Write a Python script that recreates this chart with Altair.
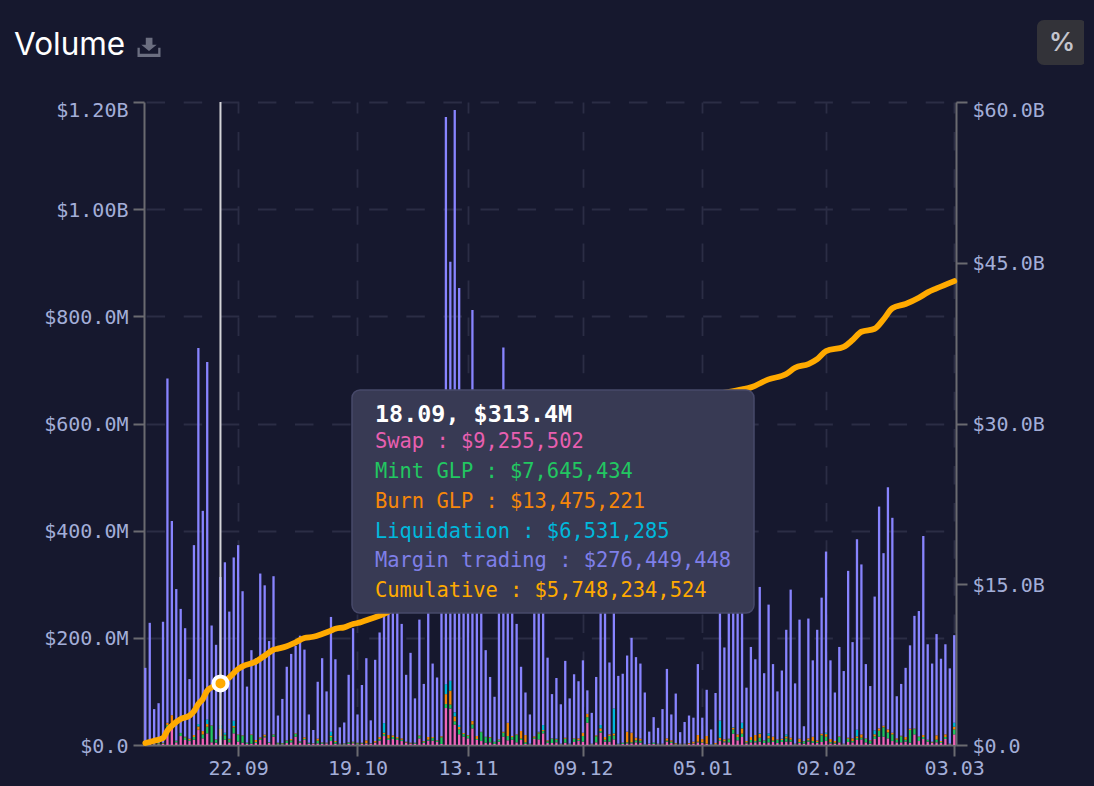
import altair as alt
import pandas as pd
from altair.utils.html import HTML_TEMPLATE

BG = "#16182e"
MONO = "DejaVu Sans Mono"

swap = [
    .6,1.9,1.2,1.2,1.9,24.8,34,5,16.7,9.3,
    7.4,9.9,27.9,12.4,21.7,5,4.3,9.26,9.9,5,
    21.7,6.2,4.3,1.9,2.5,3.7,9.3,14.3,3.7,15.5,
    1.2,1.2,3.7,5,15.5,4.3,9.3,2.5,1.9,3.1,
    2.5,3.1,7.4,2.5,1.2,1.2,1.9,3.1,1.2,1.9,
    3.1,1.9,4.3,8,16.7,9.3,11.2,9.3,7.4,4.3,
    2.5,2.5,12.4,3.7,8,8,5.6,1.9,69,68,
    38,20,15.5,12.4,31,9.3,7.4,4.3,5,1.9,
    6.2,15.5,8.7,9.9,5,9.3,1.9,1.2,11.2,10.5,
    21.7,3.7,3.7,5,1.2,4.3,1.2,5.6,7.4,6.2,
    41.5,1.2,5,23,6.2,6.2,10.5,1.2,1.9,3.1,
    3.1,5,4.3,.6,1.9,1.9,1.2,1.2,6.2,3.7,
    1.2,1.2,1.2,1.9,2.5,5,3.7,1.9,.6,1.2,
    7.4,5,5,21,8.7,14.9,3.1,5,5,6.2,
    3.7,5,5.6,3.7,5.6,6.2,6.2,1.2,3.7,2.5,
    6.2,4.3,3.7,5.6,7.4,3.1,2.5,5,1.2,5.6,
    5,9.3,10.5,5,2.5,11.2,15.5,15.5,12.4,7.4,
    5,5,6.2,4.3,19.8,7.4,11.2,6.2,3.7,5,
    3.7,11.2,1.2,19.8,
]
mint = [
    1.2,1.9,.6,1.9,1.2,12.4,6.2,2.5,5.6,5,
    1.9,5,.5,7.4,12.4,31,5.6,7.65,8,5,
    11.2,12.4,12.4,1.9,16.1,1.9,2.5,1.9,1.2,3.7,
    1.9,1.9,4.3,3.7,5,1.9,1.9,1.2,.6,5,
    1.9,.6,7.4,3.1,.6,1.2,2.5,1.9,1.9,1.2,
    .6,.6,.6,3.1,3.7,3.1,3.7,3.1,2.5,.6,
    .6,1.2,4.3,2.5,1.9,5,1.9,12.4,7.4,7.4,
    6.2,9.3,5,5,7.4,1.9,16.7,10.5,8.7,3.7,
    3.1,7.4,8,5,13.6,2.5,3.1,.6,2.5,11.2,
    4.3,3.1,8,5,.6,7.4,.6,5.6,1.9,10.5,
    10.5,.6,11.2,3.1,3.7,10.5,7.4,1.2,1.9,1.9,
    1.9,3.7,3.7,.6,.6,2.5,.6,.6,1.9,2.5,
    1.2,.6,.6,.6,.6,1.2,1.2,.6,.6,.6,
    1.9,1.9,5.6,8,6.2,6.2,1.9,4.3,2.5,7.4,
    4.3,7.4,2.5,5.6,3.7,6.2,3.7,.6,1.9,4.3,
    2.5,3.1,1.9,12.4,8,2.5,1.9,9.9,.6,6.2,
    2.5,3.7,3.1,6.2,5,5,11.2,17.4,11.2,12.4,
    5,11.2,3.7,23.6,9.9,7.4,3.7,3.1,1.2,5,
    1.9,3.7,.6,9.3,
]
burn = [
    .6,.6,.6,.6,1.2,4.3,15.5,.6,.3,1.2,
    2.5,3.7,6.2,6.2,5,.6,.6,13.48,1.2,1.2,
    2.5,1.2,1.2,.6,1.2,3.7,2.5,3.1,.3,.6,
    1.2,.6,.6,2.5,1.2,.6,3.1,.6,.6,3.7,
    .6,.6,2.5,1.9,.6,.6,.6,1.2,1.2,1.2,
    5,.6,2.5,3.7,2.5,6.2,3.1,2.5,2.5,1.2,
    1.2,.6,1.2,1.2,5,1.9,1.2,1.9,18.6,26,
    9.3,4.3,1.9,1.2,6.2,5.6,.6,.6,1.2,.6,
    1.2,1.9,24.8,1.9,1.2,14.3,13.6,.6,2.5,1.9,
    1.9,1.9,.6,1.2,.6,1.9,.6,1.2,3.1,6.2,
    6.2,.6,1.9,5,5,3.1,3.7,0,.6,19.8,
    18,5,3.7,0,0,0,.6,.6,4.3,2.5,
    1.2,.6,.6,1.2,3.1,12.4,6.2,14.3,0,1.9,
    4.3,3.7,1.2,3.1,5,9.9,2.5,5.6,11.2,7.4,
    .6,5,7.4,1.2,1.9,3.7,3.7,.6,6.2,.6,
    3.7,8,3.1,3.1,5,5.6,3.1,1.2,.6,1.9,
    5,3.1,6.2,1.2,1.2,3.7,4.3,3.1,5.6,3.1,
    2.5,1.2,5,2.5,1.2,1.2,3.7,.6,1.2,8,
    1.9,5,.6,5,
]
liquidation = [
    0,0,0,0,0,0,0,0,0,0,
    0,0,4.3,0,8.7,0,0,6.53,3.7,.6,
    9.9,0,.6,0,0,0,0,0,0,0,
    0,0,0,0,0,0,0,0,0,0,
    0,0,7.4,0,0,0,0,0,0,0,
    0,0,0,0,18,0,0,0,0,0,
    0,0,0,0,0,0,0,0,18.6,18.6,
    7.4,3.7,0,0,0,0,0,0,0,0,
    0,0,0,0,0,0,0,0,0,1.2,
    9.3,0,0,1.2,0,0,0,0,0,0,
    0,0,0,6.2,0,0,46.5,0,0,0,
    0,0,0,0,0,0,0,0,0,0,
    0,0,0,0,0,0,0,0,0,0,
    32,0,0,1.2,0,10.5,0,0,0,1.2,
    0,4.3,0,0,.6,3.7,0,0,0,0,
    0,0,0,0,2.5,0,0,0,0,0,
    0,12.4,0,0,0,7.4,0,0,0,0,
    0,0,0,0,0,0,0,0,0,0,
    0,0,0,7.4,
]
# Height of each whole daily bar, $M
daily_total = [
    144,228,67,78,230,684,418,291,254,218,
    123,373,741,437,715,223,187,313.4,341,249,
    350,373,287,109,177,162,320,298,194,315,
    55,86,146,170,185,204,178,57,28,118,
    162,100,239,160,33,42,131,218,57,112,
    162,46,159,210,300,330,290,310,226,131,
    172,87,234,114,420,152,126,560,1172,902,
    1185,853,620,560,812,500,480,177,127,90,
    420,742,380,350,226,146,98,57,300,360,
    320,163,95,125,76,157,87,132,119,158,
    102,60,127,300,290,154,340,129,133,167,
    200,164,152,98,25,52,32,67,142,57,
    96,24,43,55,51,151,51,103,29,97,
    310,182,280,300,270,310,107,183,160,295,
    134,262,151,100,139,215,290,115,234,35,
    236,158,215,275,361,158,98,183,138,325,
    192,384,337,151,110,277,445,358,481,424,
    91,114,144,186,241,250,390,188,152,207,
    161,188,143,205,
]

# Cumulative line, read at these days since 1 Sep ($B)
cum_day = [0,2,4,5,6,8,10,11,12,13,14,15,17,19,21,22,25,27,29,30,32,34,36,38,40,42,43,45,47,48,51,54,
           60,68,72,80,90,100,110,120,130,135,137,141,145,147,150,152,154,158,160,162,165,167,169,172,175,177,179,183]
cum_value = [.19,.40,.65,1.34,1.8,2.43,2.74,3.14,3.83,4.29,5.07,5.38,5.75,6.31,7.09,7.34,7.78,8.33,8.89,8.99,
             9.21,9.58,9.98,10.1,10.36,10.67,10.85,10.98,11.29,11.38,11.79,12.23,
             13.8,16,20.5,24,27,29,31,32,32.8,33.19,33.37,34.12,34.61,35.2,35.55,36.01,36.76,37.16,37.79,38.56,
             38.84,39.72,40.75,41.15,41.73,42.24,42.61,43.29]

series_names = ["Swap", "Mint GLP", "Burn GLP", "Liquidation", "Margin trading"]
series_colors = ["#ee64b8", "#22c761", "#f6870a", "#00b8dc", "#8884ff"]
tick_dates = [(2021,9,22),(2021,10,19),(2021,11,13),(2021,12,9),(2022,1,5),(2022,2,2),(2022,3,3)]
left_ticks = [0, 200, 400, 600, 800, 1000, 1200]
right_ticks = [0, 15, 30, 45, 60]
tooltip_lines = [
    ("Swap : $9,255,502", "#e85fb0"),
    ("Mint GLP : $7,645,434", "#22c761"),
    ("Burn GLP : $13,475,221", "#f6870a"),
    ("Liquidation : $6,531,285", "#00b8dc"),
    ("Margin trading : $276,449,448", "#7f7fe8"),
    ("Cumulative : $5,748,234,524", "#ffaa00"),
]

dates = pd.date_range("2021-09-01", periods=len(daily_total), freq="D")
iso = dates.strftime("%Y-%m-%dT00:00:00")
rows = []
for d, s, m, b, l, t in zip(iso, swap, mint, burn, liquidation, daily_total):
    vals = [s, m, b, l, t - s - m - b - l]
    for rank, (name, v) in enumerate(zip(series_names, vals)):
        rows.append({"date": d, "series": name, "value": v, "rank": rank})
bars_df = pd.DataFrame(rows)
line_df = pd.DataFrame({"date": [iso[i] for i in cum_day], "cum": cum_value})
cursor_df = pd.DataFrame({"date": [iso[17]], "cum": [cum_value[12]]})
one = pd.DataFrame({"k": [0]})

x_scale = alt.Scale(domain=[alt.DateTime(year=2021, month=8, date=31, hours=16, minutes=48),
                            alt.DateTime(year=2022, month=3, date=3, hours=9, minutes=36)], padding=0)
right_scale = alt.Scale(domain=[0, 60], nice=False)

x_axis = alt.Axis(values=[alt.DateTime(year=y, month=m, date=d) for y, m, d in tick_dates],
                  format="%d.%m", title=None, grid=True, gridColor="#2b2d45", gridWidth=1.8, gridDash=[18.5, 18.6],
                  gridDashOffset=7.5, domainColor="#6a6a70", domainWidth=2, tickColor="#6a6a70", tickWidth=2, tickSize=11,
                  labelPadding=2, labelFont=MONO, labelFontSize=20, labelColor="#a3aed8", labelOverlap=False,
                  labelFlush=False)
left_axis = alt.Axis(values=left_ticks, orient="left", title=None, grid=True, gridColor="#2b2d45", gridWidth=1.8,
                     gridDash=[18.5, 18.6], gridDashOffset=35, domainColor="#6a6a70", domainWidth=2, tickColor="#6a6a70",
                     tickWidth=2, tickSize=11, labelPadding=5, labelFont=MONO, labelFontSize=20, labelColor="#a3aed8",
                     labelOverlap=False, labelFlush=False,
                     labelOffset={"condition": {"test": "datum.value == 1200", "value": 8}, "value": 1},
                     labelExpr="datum.value==0 ? '$0.0' : datum.value>=1000 ? '$'+format(datum.value/1000,'.2f')+'B' : '$'+format(datum.value,'.1f')+'M'")
right_axis = alt.Axis(values=right_ticks, orient="right", title=None, grid=False, domainColor="#6a6a70", domainWidth=2,
                      tickColor="#6a6a70", tickWidth=2, tickSize=11, labelPadding=5, labelFont=MONO, labelFontSize=20,
                      labelColor="#a3aed8", labelOverlap=False, labelFlush=False,
                      labelOffset={"condition": {"test": "datum.value == 60", "value": 8}, "value": 1},
                      labelExpr="datum.value==0 ? '$0.0' : '$'+format(datum.value,'.1f')+'B'")

bars = alt.Chart(bars_df).mark_bar(size=2.3, orient="vertical").encode(
    x=alt.X("date:T", scale=x_scale, axis=x_axis),
    y=alt.Y("value:Q", stack="zero", scale=alt.Scale(domain=[0, 1200], nice=False), axis=left_axis),
    color=alt.Color("series:N", scale=alt.Scale(domain=series_names, range=series_colors), legend=None),
    order=alt.Order("rank:Q"),
)
line = alt.Chart(line_df).mark_line(color="#ffaa00", strokeWidth=5.8, interpolate="monotone",
                                    strokeCap="round", strokeJoin="round").encode(
    x=alt.X("date:T", scale=x_scale, axis=x_axis),
    y=alt.Y("cum:Q", scale=right_scale, axis=right_axis),
)
cursor = alt.Chart(cursor_df).mark_rule(color="#d4d4d8", strokeWidth=2).encode(
    x=alt.X("date:T", scale=x_scale, axis=x_axis),
    y=alt.value(0), y2=alt.value(643),
)
dot = alt.Chart(cursor_df).mark_point(filled=True, shape="circle", size=196, fill="#ffaa00", stroke="#ffffff",
                                      strokeWidth=4, opacity=1).encode(
    x=alt.X("date:T", scale=x_scale, axis=x_axis),
    y=alt.Y("cum:Q", scale=right_scale, axis=None),
)


def label(text, x, y, color, size=20.4, font=MONO, weight="normal", align="left"):
    return alt.Chart(one).mark_text(text=text, font=font, fontSize=size, fontWeight=weight, color=color, align=align,
                                    baseline="middle").encode(x=alt.value(x), y=alt.value(y))


tip_box = alt.Chart(one).mark_rect(color="#383a54", stroke="#47496a", strokeWidth=1.5, cornerRadius=8).encode(
    x=alt.value(208), x2=alt.value(610), y=alt.value(288), y2=alt.value(511))
tip_title = label("18.09, $313.4M", 231, 313, "#ffffff", size=23.4, weight="bold")
tip_rows = [label(t, 231, y, c) for (t, c), y in zip(tooltip_lines, [340, 370, 400, 430, 459, 489])]

title = label("Volume", -130, -56, "#ffffff", size=31.5, font="Inter")
icon = alt.Chart(one).mark_point(
    filled=True, size=529, color="#6b6e80", opacity=1,
    shape="M-1,.06 L-.8,.06 L-.8,.58 L.8,.58 L.8,.06 L1,.06 L1,.87 L-1,.87 Z M-.28,-.81 L.3,-.81 L.3,-.2 L.67,-.2 L0,.35 L-.67,-.2 L-.28,-.2 Z",
).encode(x=alt.value(5), y=alt.value(-55))
btn = alt.Chart(one).mark_rect(color="#333339", cornerRadius=7).encode(
    x=alt.value(893), x2=alt.value(943), y=alt.value(-82), y2=alt.value(-37))
btn_text = label("%", 918, -59, "#c4c4cc", size=26, font="Inter", weight=600, align="center")

chart = alt.layer(bars, line, cursor, dot, tip_box, tip_title, *tip_rows, title, icon, btn, btn_text).resolve_scale(
    y="independent"
).properties(
    width=812, height=643, background=BG,
    padding={"left": 136, "top": 94, "right": 128, "bottom": 33},
    autosize=alt.AutoSizeParams(type="none"),
).configure_view(stroke=None)


class DarkPage:
    """Same page altair writes, with the chart's background colour on the body too."""
    def render(self, **kwargs):
        style = "<style>html,body{background:" + BG + ";}</style>"
        return HTML_TEMPLATE.render(**kwargs).replace("<head>", "<head>" + style, 1)


chart.save("out.html", embed_options={"renderer": "svg", "actions": False}, template=DarkPage())
